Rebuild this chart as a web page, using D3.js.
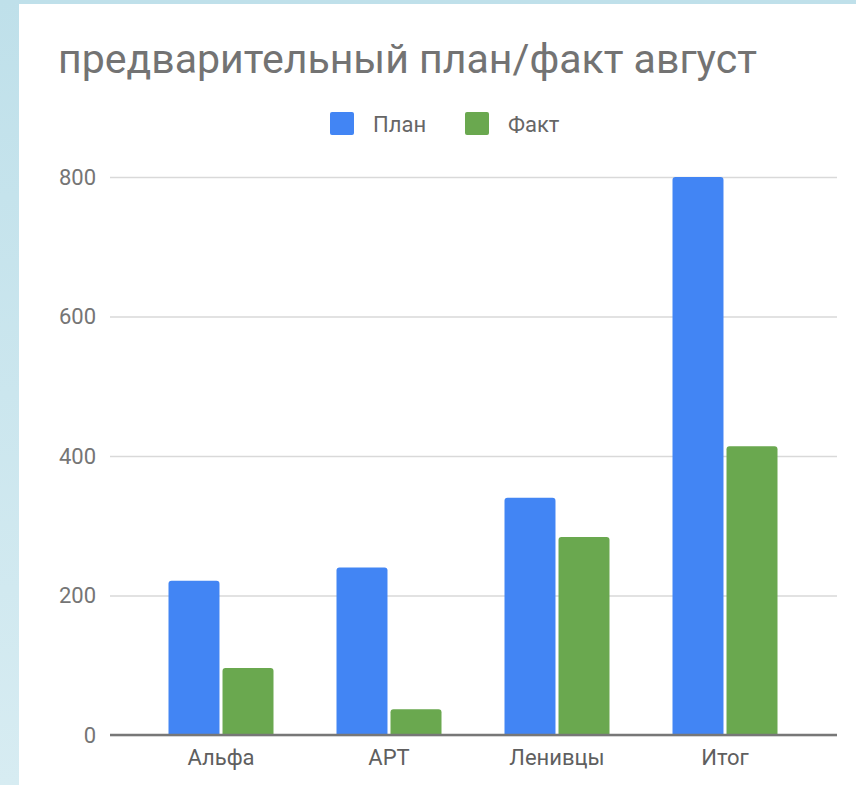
<!DOCTYPE html>
<html>
<head>
<meta charset="utf-8">
<script src="https://cdn.jsdelivr.net/npm/d3@7"></script>
<style>
  html, body { margin: 0; padding: 0; }
  body {
    width: 856px; height: 785px; overflow: hidden;
    background: linear-gradient(180deg, #bfe0ea 0%, #d7ecf2 100%);
  }
  svg { display: block; font-family: Roboto, "Noto Sans", sans-serif; }
</style>
</head>
<body>
<svg id="chart"></svg>
<script>
// data
const categories = ['Альфа', 'АРТ', 'Ленивцы', 'Итог'];
const seriesNames = ['План', 'Факт'];
const planValues = [221, 240, 340, 800];
const factValues = [96, 37, 284, 414];
const yTicks = [0, 200, 400, 600, 800];
const colors = ['#4285f4', '#6aa84f'];
const title = 'предварительный план/факт август';

const w = 856;
const h = 785;
const svg = d3.select('#chart').attr('width', w).attr('height', h);

// white card
svg.append('rect')
  .attr('x', 19).attr('y', 4)
  .attr('width', w - 19).attr('height', h - 4)
  .attr('fill', '#fff');

svg.append('text')
  .attr('x', 58).attr('y', 73)
  .attr('font-size', 40)
  .attr('textLength', 699)
  .attr('lengthAdjust', 'spacingAndGlyphs')
  .attr('fill', '#737373')
  .text(title);

const scaleY = d3.scaleLinear().domain([0, 800]).range([735, 177]);
const scaleX = d3.scaleBand()
  .domain(categories)
  .range([137, 809])
  .paddingInner(0.375)
  .paddingOuter(0.1875);
const scaleS = d3.scaleBand()
  .domain(seriesNames)
  .range([0, scaleX.bandwidth()])
  .paddingInner(0.056);
const color = d3.scaleOrdinal().domain(seriesNames).range(colors);

// grid
const yAxis = d3.axisLeft(scaleY)
  .tickValues(yTicks)
  .tickSize(-(837 - 110))
  .tickPadding(14);
const gy = svg.append('g')
  .attr('transform', 'translate(110,0)')
  .call(yAxis);
gy.select('.domain').remove();
gy.selectAll('.tick line').attr('stroke', '#d9d9d9').attr('stroke-width', 1.5);
gy.selectAll('.tick text')
  .attr('font-size', 22)
  .attr('fill', '#757575')
  .attr('font-family', 'Roboto, sans-serif');

// bars
const rows = categories.map((c, i) => ({cat: c, vals: [planValues[i], factValues[i]]}));
svg.append('clipPath').attr('id', 'plot-clip')
  .append('rect')
  .attr('x', 0).attr('y', 0)
  .attr('width', w).attr('height', scaleY(0));

const groups = svg.append('g')
  .attr('clip-path', 'url(#plot-clip)')
  .selectAll('g')
  .data(rows)
  .enter()
  .append('g')
  .attr('transform', d => 'translate(' + scaleX(d.cat) + ',0)');

groups.selectAll('rect')
  .data(d => d.vals.map((v, j) => ({name: seriesNames[j], value: v})))
  .enter()
  .append('rect')
  .attr('x', d => scaleS(d.name))
  .attr('y', d => scaleY(d.value))
  .attr('width', scaleS.bandwidth())
  .attr('height', d => scaleY(0) - scaleY(d.value) + 6)
  .attr('rx', 3)
  .attr('fill', d => color(d.name));

// baseline
svg.append('line')
  .attr('x1', 110).attr('x2', 837)
  .attr('y1', scaleY(0)).attr('y2', scaleY(0))
  .attr('stroke', '#777')
  .attr('stroke-width', 2.5);

// x axis labels
const xAxis = d3.axisBottom(scaleX).tickSize(0).tickPadding(14);
const gx = svg.append('g')
  .attr('transform', 'translate(0,' + scaleY(0) + ')')
  .call(xAxis);
gx.select('.domain').remove();
gx.selectAll('.tick text')
  .attr('font-size', 22)
  .attr('fill', '#5f5f5f')
  .attr('font-family', 'Roboto, sans-serif');

// legend
const legendX = [330, 465];
const legend = svg.append('g')
  .selectAll('g')
  .data(seriesNames)
  .enter()
  .append('g')
  .attr('transform', (d, i) => 'translate(' + legendX[i] + ',112)');
legend.append('rect')
  .attr('width', 24).attr('height', 23)
  .attr('rx', 2)
  .attr('fill', d => color(d));
legend.append('text')
  .attr('x', 43).attr('y', 20)
  .attr('font-size', 22)
  .attr('fill', '#666')
  .text(d => d);
</script>
</body>
</html>
